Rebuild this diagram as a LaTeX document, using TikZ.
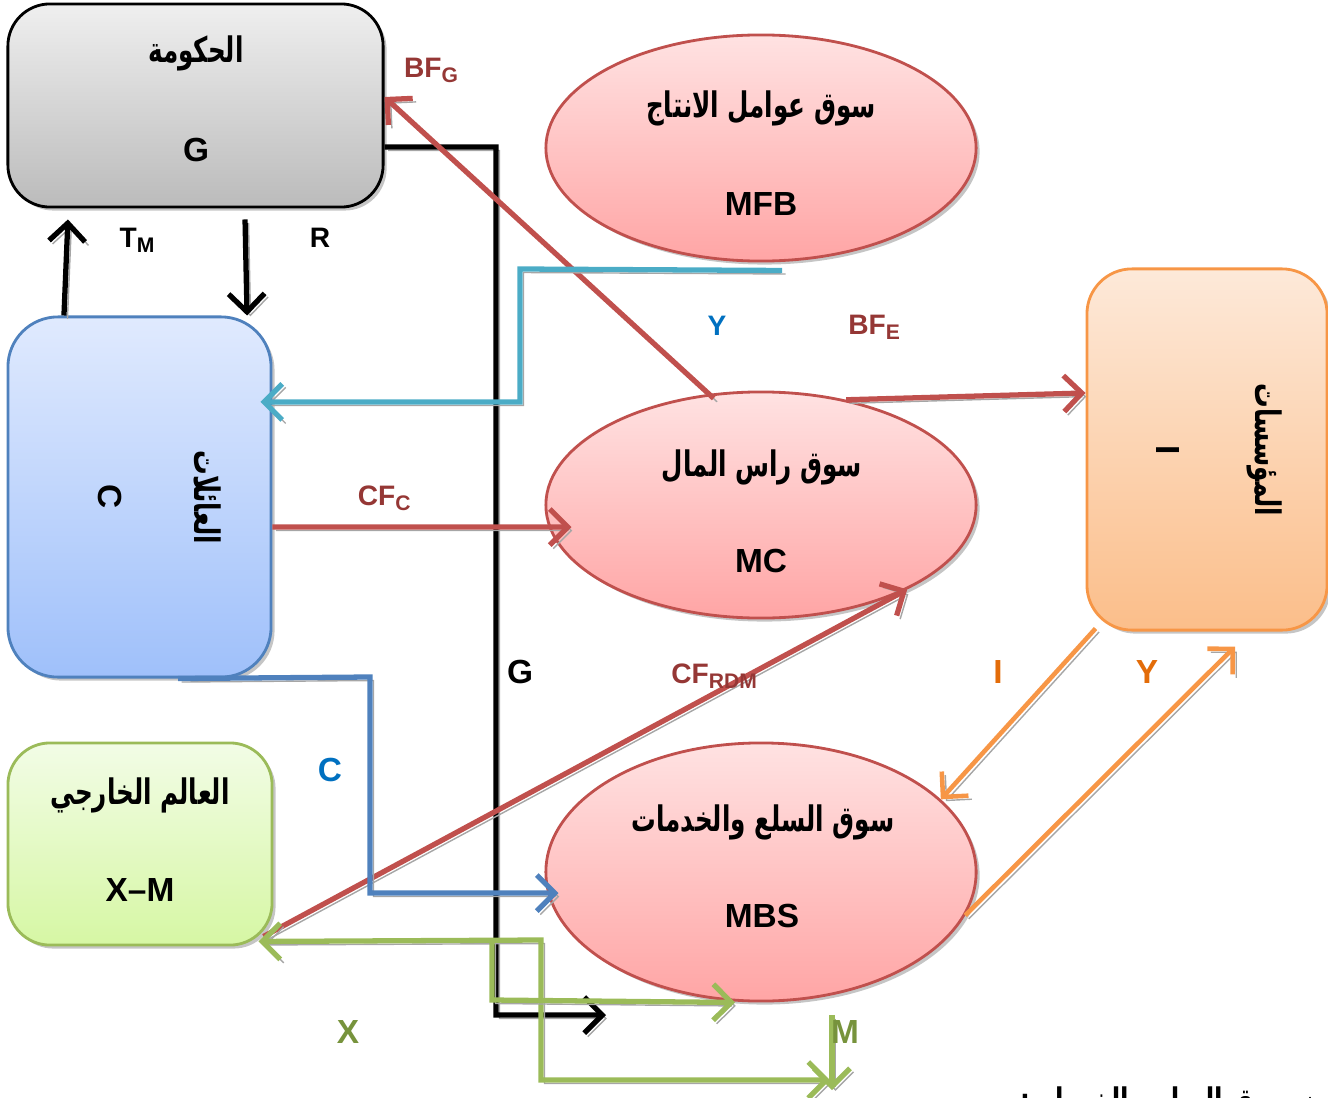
\documentclass[tikz,border=0pt]{standalone}
\usepackage{fontspec}
\setmainfont{Liberation Sans}
\newfontfamily\arabicfont[Script=Arabic,FakeStretch=0.7]{DejaVu Sans}
\TeXXeTstate=1
\usetikzlibrary{calc,shapes.geometric,shadows,arrows.meta}

\definecolor{govtop}{HTML}{EFEFEF}
\definecolor{govbot}{HTML}{BBBBBB}
\definecolor{hhtop}{HTML}{E0EAFE}
\definecolor{hhbot}{HTML}{9FC0FA}
\definecolor{hhline}{HTML}{4F81BD}
\definecolor{firmtop}{HTML}{FDE9D9}
\definecolor{firmbot}{HTML}{FBBE8A}
\definecolor{firmline}{HTML}{F79646}
\definecolor{wldtop}{HTML}{F2FCE6}
\definecolor{wldbot}{HTML}{D6F7A4}
\definecolor{wldline}{HTML}{9BBB59}
\definecolor{mkttop}{HTML}{FFE2E2}
\definecolor{mktbot}{HTML}{FFA5A5}
\definecolor{mktline}{HTML}{C0504D}
\definecolor{ycyan}{HTML}{4BACC6}
\definecolor{lblred}{HTML}{953735}
\definecolor{lblblue}{HTML}{0070C0}
\definecolor{lblorange}{HTML}{E36C09}
\definecolor{lblgreen}{HTML}{77933C}

\tikzset{
	>={Straight Barb[length=0.18cm,width=0.36cm]},
	boxshadow/.style={drop shadow={shadow xshift=0.035cm,shadow yshift=-0.035cm,fill=black!45}},
	sector/.style={rounded corners=0.42cm, line width=0.8pt, inner sep=0pt, boxshadow},
	market/.style={ellipse, draw=mktline, line width=0.8pt, top color=mkttop, bottom color=mktbot,
		minimum width=4.3cm, minimum height=2.26cm, inner sep=0pt, boxshadow},
	flow/.style={line width=1.5pt, ->,
		preaction={draw=black!35, transform canvas={xshift=0.035cm,yshift=-0.035cm}}},
	lbl/.style={font=\bfseries\fontsize{8}{9}\selectfont},
	big/.style={font=\bfseries\fontsize{9.5}{11}\selectfont},
	arab/.style={font=\arabicfont\bfseries\fontsize{10}{12}\selectfont},
}

\begin{document}
\begin{tikzpicture}[x=0.01cm,y=-0.01cm]
		%%%%% START %%%%%
		\useasboundingbox (0,0) rectangle (1328,1097);
		
		% sectors
		\node[sector, draw=black, top color=govtop, bottom color=govbot, minimum width=3.75cm, minimum height=2.03cm] (gov) at (195.5,105.5) {};
		\node[arab] (govname) at (196,53) {\beginR الحكومة\endR};
		\node[big] (govsym) at (196,150) {G};
		
		\node[sector, rounded corners=0.5cm, draw=hhline, top color=hhtop, bottom color=hhbot, minimum width=2.63cm, minimum height=3.6cm] (hh) at (139.5,497) {};
		\node[arab, rotate=-90] (hhname) at (208,497) {\beginR العائلات\endR};
		\node[big, rotate=-90] (hhsym) at (110,497) {C};
		
		\node[sector, rounded corners=0.45cm, draw=firmline, top color=firmtop, bottom color=firmbot, minimum width=2.4cm, minimum height=3.61cm] (firm) at (1207,449.5) {};
		\node[arab, rotate=-90] (firmname) at (1265,450) {\beginR المؤسسات\endR};
		\node[big, rotate=-90] (firmsym) at (1168,450) {I};
		
		\node[sector, draw=wldline, top color=wldtop, bottom color=wldbot, minimum width=2.64cm, minimum height=2.02cm] (wld) at (140,844) {};
		\node[arab] (wldname) at (140,795) {\beginR العالم الخارجي\endR};
		\node[big] (wldsym) at (140,890) {X--M};
		
		% markets
		\node[market] (mfb) at (761,148) {};
		\node[arab] (mfbname) at (761,108) {\beginR سوق عوامل الانتاج\endR};
		\node[big] (mfbsym) at (761,204) {MFB};
		
		\node[market] (mc) at (761,505) {};
		\node[arab] (mcname) at (762,467) {\beginR سوق راس المال\endR};
		\node[big] (mcsym) at (761,561) {MC};
		
		\node[market, minimum height=2.58cm] (mbs) at (761,872) {};
		\node[arab] (mbsname) at (763,822) {\beginR سوق السلع والخدمات\endR};
		\node[big] (mbssym) at (762,916) {MBS};
		
		% taxes, transfers, spending
		\draw[flow] ([xshift=-0.755cm]hh.north) -- ([xshift=-1.275cm,yshift=-0.11cm]gov.south);
		\node[lbl] (tm) at (138,240) {T\textsubscript{M}};
		\draw[flow] ([xshift=0.495cm,yshift=-0.11cm]gov.south) -- ([xshift=1.075cm]hh.north);
		\node[lbl] (r) at (320,238) {R};
		\coordinate (gup) at (496,147);
		\coordinate (gdown) at (496,1015);
		\coordinate (gend) at (606,1015);
		\draw[flow] ([yshift=-0.415cm]gov.east) -- (gup) -- (gdown) -- (gend);
		\node[big] (g) at (520,672) {G};
		
		% capital market
		\draw[flow, mktline] ([yshift=-0.05cm]mc.113) -- ([yshift=0.085cm]gov.east);
		\node[lbl, lblred] (bfg) at (432,70) {BF\textsubscript{G}};
		\draw[flow, mktline] (mc.51) -- ([yshift=0.565cm]firm.west);
		\node[lbl, lblred] (bfe) at (875,327) {BF\textsubscript{E}};
		\draw[flow, mktline] ([yshift=-0.3cm]hh.east) -- ([xshift=0.27cm,yshift=-0.22cm]mc.west);
		\node[lbl, lblred] (cfc) at (385,498) {CF\textsubscript{C}};
		\draw[flow, mktline] ([xshift=-0.1cm,yshift=0.1cm]wld.south east) -- (mc.-30);
		\node[lbl, lblred] (cfrdm) at (715,676) {CF\textsubscript{RDM}};
		
		% incomes
		\coordinate (ybend1) at (520,269);
		\coordinate (ybend2) at (520,402);
		\draw[flow, ycyan] ([xshift=0.21cm,yshift=-0.08cm]mfb.south) -- (ybend1) -- (ybend2) -- ([xshift=-0.12cm,yshift=0.95cm]hh.east);
		\node[lbl, lblblue] (yh) at (717,326) {Y};
		
		% goods market
		\coordinate (cbend1) at (370,677);
		\coordinate (cbend2) at (370,893);
		\draw[flow, hhline] ([xshift=0.385cm]hh.south) -- (cbend1) -- (cbend2) -- ([xshift=0.14cm,yshift=-0.21cm]mbs.west);
		\node[big, lblblue] (c) at (330,770) {C};
		\draw[flow, firmline, line width=1.3pt] ([xshift=0.1cm,yshift=0.03cm]firm.south west) -- (mbs.22);
		\node[big, lblorange] (i) at (998,672) {I};
		\draw[flow, firmline, line width=1.3pt] (mbs.-12) -- ([xshift=0.28cm,yshift=-0.15cm]firm.south);
		\node[big, lblorange] (yf) at (1147,672) {Y};
		
		% exports and imports
		\coordinate (xbend1) at (541,940);
		\coordinate (xbend2) at (541,1080);
		\coordinate (xend) at (830,1080);
		\draw[flow, wldline, <->] ([xshift=-0.15cm,yshift=0.05cm]wld.south east) -- (xbend1) -- (xbend2) -- (xend);
		\coordinate (xsplit) at (492,940);
		\coordinate (xdown) at (492,1000);
		\draw[flow, wldline] (xsplit) -- (xdown) -- ([xshift=-0.26cm]mbs.south);
		\coordinate (mtop) at (832,1015);
		\coordinate (mbot) at (832,1090);
		\draw[flow, wldline] (mtop) -- (mbot);
		\node[big, lblgreen] (x) at (348,1032) {X};
		\node[big, lblgreen] (m) at (845,1032) {M};
		
		\node[arab, anchor=base east] (nextline) at (1335,1113) {\beginR ن سوق السلع والخدمات:\endR};
		%%%%% END %%%%%
\end{tikzpicture}
\end{document}
